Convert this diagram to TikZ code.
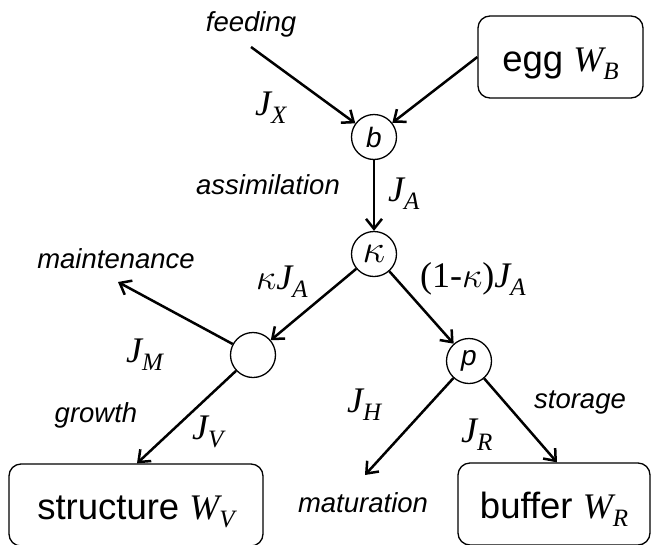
\RequirePackage{fix-cm}
\documentclass[tikz,border=0pt]{standalone}
\usepackage{fontspec}
\setmainfont{Liberation Sans}
\newfontfamily\tms{Liberation Serif}
\usetikzlibrary{arrows.meta}
\newcommand\vsym[2]{{\tms\itshape #1\raisebox{-8pt}{\fontsize{25}{26}\selectfont #2}}}
\newcommand\kap{$\kappa$}
\tikzset{
  circ/.style={circle,draw,line width=1.3pt,minimum size=45pt,inner sep=0pt,font=\fontsize{28}{30}\selectfont\itshape},
  boxn/.style={draw,line width=1.3pt,rounded corners=12pt,inner sep=0pt,text height=29pt,text depth=0pt,font=\fontsize{36.5}{40}\selectfont},
  lbl/.style={inner sep=0pt,anchor=base,font=\fontsize{27.5}{30}\selectfont\itshape},
  sym/.style={inner sep=0pt,anchor=base west,font=\fontsize{36}{38}\selectfont},
  arr/.style={line width=2.5pt,-{Straight Barb[length=10pt,width=16pt]}}
}
\begin{document}
\begin{tikzpicture}[x=1pt,y=-1pt]
\useasboundingbox (0,0) rectangle (651,544);
% circles
\node[circ] (b) at (374,137) {b};
\node[circ,font=\fontsize{40}{42}\selectfont] (k) at (374,254) {\kap};
\node[circ] (e) at (253,355) {};
\node[circ] (p) at (469,361) {p};
% boxes
\node[boxn,minimum width=165pt,minimum height=82pt] (egg) at (560.5,57) {egg {\fontsize{36}{38}\selectfont\vsym{W}{B}}};
\node[boxn,minimum width=254pt,minimum height=82pt] (str) at (136,505) {structure {\fontsize{36}{38}\selectfont\vsym{W}{V}}};
\node[boxn,minimum width=192pt,minimum height=82pt] (buf) at (554,504) {buffer {\fontsize{36}{38}\selectfont\vsym{W}{R}}};
% free ends
\coordinate (fd) at (251,47);
\coordinate (mt) at (118,282);
\coordinate (mat) at (365,475);
% italic labels
\node[lbl] (lfeed) at (251,31) {feeding};
\node[lbl] (lass) at (268,194) {assimilation};
\node[lbl] (lmain) at (116,268) {maintenance};
\node[lbl] (lgrow) at (96,422) {growth};
\node[lbl] (lstor) at (580,408) {storage};
\node[lbl] (lmat) at (363,512) {maturation};
% flux labels
\node[sym] (jx) at (255,115) {\vsym{J}{X}};
\node[sym] (ja) at (388,201) {\vsym{J}{A}};
\node[sym] (kja) at (256,289) {\kap\vsym{J}{A}};
\node[sym] (okja) at (420,287) {{\tms(1-}\kap{\tms)}\vsym{J}{A}};
\node[sym] (jm) at (126,362) {\vsym{J}{M}};
\node[sym] (jv) at (192,439) {\vsym{J}{V}};
\node[sym] (jh) at (347,412) {\vsym{J}{H}};
\node[sym] (jr) at (461,442) {\vsym{J}{R}};
% connectors
\draw[arr] (fd) -- (b);
\draw[arr] (egg.west) -- (b);
\draw[arr] (b) -- (k);
\draw[arr] (k) -- (e);
\draw[arr] (k) -- (p);
\draw[arr] (e) -- (mt);
\draw[arr] (e) -- ([xshift=1pt]str.north);
\draw[arr] (p) -- (mat);
\draw[arr] (p) -- ([xshift=3pt]buf.north);
\end{tikzpicture}
\end{document}
